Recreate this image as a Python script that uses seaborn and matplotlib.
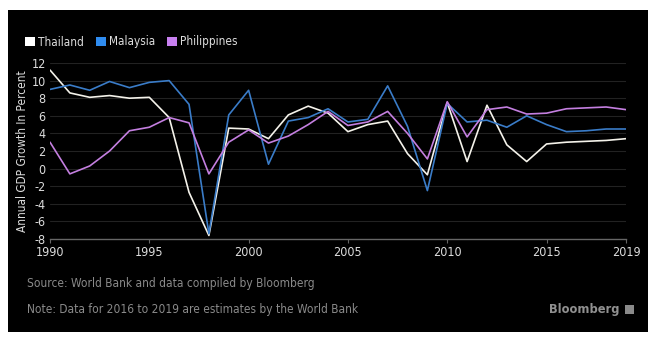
import matplotlib
matplotlib.use("Agg")
import matplotlib.pyplot as plt
from matplotlib.patches import Patch, Rectangle
import seaborn as sns
import pandas as pd

years = list(range(1990, 2020))
thailand = [11.2, 8.6, 8.1, 8.3, 8.0, 8.1, 5.8, -2.7, -7.6, 4.6, 4.5, 3.4, 6.1, 7.1, 6.3,
            4.2, 5.0, 5.4, 1.7, -0.7, 7.5, 0.8, 7.2, 2.7, 0.8, 2.8, 3.0, 3.1, 3.2, 3.4]
malaysia = [9.0, 9.5, 8.9, 9.9, 9.2, 9.8, 10.0, 7.3, -7.4, 6.1, 8.9, 0.5, 5.4, 5.8, 6.8,
            5.3, 5.6, 9.4, 4.8, -2.5, 7.4, 5.3, 5.5, 4.7, 6.0, 5.0, 4.2, 4.3, 4.5, 4.5]
philippines = [3.0, -0.6, 0.3, 2.0, 4.3, 4.7, 5.8, 5.2, -0.6, 3.0, 4.4, 2.9, 3.7, 5.0, 6.5,
               4.9, 5.3, 6.5, 4.0, 1.1, 7.6, 3.6, 6.7, 7.0, 6.2, 6.3, 6.8, 6.9, 7.0, 6.7]
countries = ["Thailand", "Malaysia", "Philippines"]
colors = ["#f4f2ea", "#3a7cc8", "#c47fe0"]
legend_colors = ["#ffffff", "#2f8cf0", "#c880f0"]
xticks = [1990, 1995, 2000, 2005, 2010, 2015, 2019]
yticks = list(range(-8, 13, 2))

df = pd.DataFrame({
    "Year": years * 3,
    "Growth": thailand + malaysia + philippines,
    "Country": sum([[c] * len(years) for c in countries], []),
})

sns.set_theme(style="dark")
plt.rcParams["font.family"] = ["DejaVu Sans"]
plt.rcParams["font.stretch"] = "condensed"
plt.rcParams["axes.unicode_minus"] = False

fig = plt.figure(figsize=(6.59, 3.47), dpi=100, facecolor="white")
W, H = 659, 347
fig.patches.append(Rectangle((8 / W, 1 - 332 / H), 640 / W, 322 / H,
                             transform=fig.transFigure, facecolor="black",
                             edgecolor="none", zorder=-5))
ax = fig.add_axes([50 / W, 1 - 239 / H, 576 / W, 176 / H])
ax.set_facecolor("black")
ax.set_zorder(2)

sns.lineplot(data=df, x="Year", y="Growth", hue="Country", palette=dict(zip(countries, colors)),
             linewidth=1.2, legend=False, ax=ax)

ax.set_xlim(1990, 2019)
ax.set_ylim(-8, 12)
ax.set_yticks(yticks)
ax.set_xticks(xticks)
ax.set_xticklabels([str(x) for x in xticks])
ax.grid(axis="y", color="#222222", linewidth=0.8)
ax.grid(axis="x", visible=False)
for s in ["top", "right", "left"]:
    ax.spines[s].set_visible(False)
ax.spines["bottom"].set_color("#666666")
ax.spines["bottom"].set_linewidth(1.0)
ax.tick_params(axis="x", colors="#666666", labelcolor="#dddddd", length=3, width=0.8,
               labelsize=9, pad=2, bottom=True)
ax.tick_params(axis="y", length=0, labelcolor="#dddddd", labelsize=9, pad=3)
ax.set_xlabel("")
ax.set_ylabel("Annual GDP Growth In Percent", color="#dddddd", fontsize=8.5)
ax.yaxis.set_label_coords(-0.036, 0.5)

handles = [Patch(facecolor=c, edgecolor="none", label=l) for c, l in zip(legend_colors, countries)]
leg = fig.legend(handles=handles, loc="center left", bbox_to_anchor=(25 / W, 1 - 42 / H),
                 ncol=3, frameon=False, fontsize=8.5, handlelength=0.85, handleheight=0.85,
                 handletextpad=0.25, columnspacing=1.0, labelcolor="#dddddd",
                 borderpad=0, borderaxespad=0)

fig.text(27 / W, 1 - 284 / H, "Source: World Bank and data compiled by Bloomberg",
         color="#8a8a8a", fontsize=8.6, va="center", ha="left")
fig.text(27 / W, 1 - 310 / H, "Note: Data for 2016 to 2019 are estimates by the World Bank",
         color="#8a8a8a", fontsize=8.6, va="center", ha="left")
fig.text(620 / W, 1 - 309 / H, "Bloomberg", color="#909090", fontsize=8.3, fontweight="bold",
         va="center", ha="right", fontstretch="normal")
fig.patches.append(Rectangle((625 / W, 1 - 314 / H), 9 / W, 9 / H, transform=fig.transFigure,
                             facecolor="#8a8a8a", edgecolor="none", zorder=2))

fig.savefig("out.png", dpi=100, facecolor="white")
